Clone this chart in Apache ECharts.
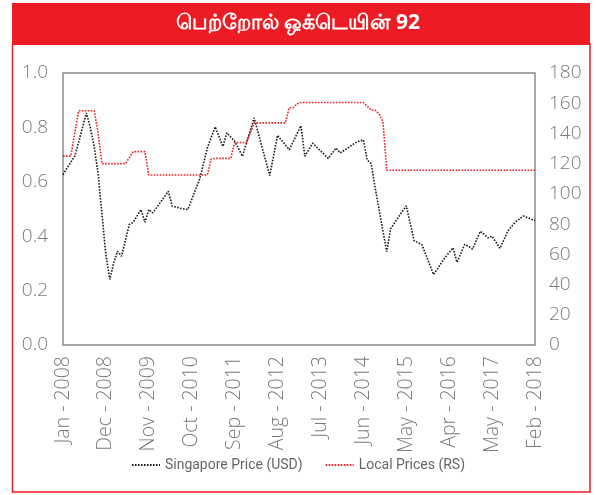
<!DOCTYPE html>
<html>
<head>
<meta charset="utf-8">
<script src="https://cdn.jsdelivr.net/npm/echarts@6/dist/echarts.min.js"></script>
<style>
  html, body { margin: 0; padding: 0; background: #fff; }
  #chart { width: 596px; height: 495px; }
</style>
</head>
<body>
<div id="chart"></div>
<script>
// tick labels shown on the x axis (every 11th point)
var tickLabels = ['Jan - 2008', 'Dec - 2008', 'Nov - 2009', 'Oct - 2010', 'Sep - 2011', 'Aug - 2012',
  'Jul - 2013', 'Jun - 2014', 'May - 2015', 'Apr - 2016', 'May - 2017', 'Feb - 2018'];

// Singapore price, USD (left axis)
var singapore = [
  0.626, 0.65, 0.672, 0.694, 0.745, 0.80, 0.853, 0.80, 0.73, 0.63,
  0.48, 0.33, 0.241, 0.302, 0.345, 0.326, 0.385, 0.443, 0.451, 0.475,
  0.498, 0.451, 0.498, 0.486, 0.505, 0.525, 0.545, 0.565, 0.510, 0.507,
  0.503, 0.500, 0.498, 0.535, 0.572, 0.608, 0.666, 0.724, 0.763, 0.802,
  0.766, 0.730, 0.780, 0.765, 0.749, 0.722, 0.694, 0.741, 0.788, 0.835,
  0.782, 0.729, 0.676, 0.623, 0.697, 0.771, 0.753, 0.736, 0.718, 0.747,
  0.777, 0.806, 0.694, 0.718, 0.742, 0.728, 0.714, 0.700, 0.686, 0.705,
  0.724, 0.706, 0.715, 0.724, 0.734, 0.744, 0.750, 0.754, 0.680, 0.667,
  0.58, 0.50, 0.42, 0.343, 0.428, 0.449, 0.470, 0.491, 0.512, 0.448,
  0.384, 0.376, 0.369, 0.332, 0.296, 0.259, 0.28, 0.302, 0.323, 0.340,
  0.357, 0.304, 0.337, 0.370, 0.362, 0.353, 0.386, 0.418, 0.406, 0.394,
  0.400, 0.378, 0.355, 0.386, 0.418, 0.436, 0.453, 0.463, 0.474, 0.469,
  0.463, 0.458
];

// Local prices, Rs (right axis)
var local = [
  125, 125, 125, 140, 155, 155, 155, 155, 155, 140,
  120, 120, 120, 120, 120, 120, 120, 124, 128, 128,
  128, 128, 112.5, 112.5, 112.5, 112.5, 112.5, 112.5, 112.5, 112.5,
  112.5, 112.5, 112.5, 112.5, 112.5, 112.5, 112.5, 112.5, 123, 123.5,
  123.5, 123.5, 123.5, 123.5, 134, 134, 134, 134, 140, 147,
  147, 147, 147, 147, 147, 147, 147, 147, 157, 157,
  159.5, 160.5, 160.5, 160.5, 160.5, 160.5, 160.5, 160.5, 160.5, 160.5,
  160.5, 160.5, 160.5, 160.5, 160.5, 160.5, 160.5, 160.5, 158, 155.5,
  155.5, 153, 148, 115.6, 115.6, 115.6, 115.6, 115.6, 115.6, 115.6,
  115.6, 115.6, 115.6, 115.6, 115.6, 115.6, 115.6, 115.6, 115.6, 115.6,
  115.6, 115.6, 115.6, 115.6, 115.6, 115.6, 115.6, 115.6, 115.6, 115.6,
  115.6, 115.6, 115.6, 115.6, 115.6, 115.6, 115.6, 115.6, 115.6, 115.6,
  115.6, 115.6
];

var categories = singapore.map(function (v, i) {
  return i % 11 === 0 ? tickLabels[i / 11] : String(i);
});

var red = '#ed1c24';
var gray = '#7a7a7a';
var labelFont = 'Open Sans';

var chart = echarts.init(document.getElementById('chart'));
chart.setOption({
  animation: false,
  graphic: [
    { type: 'rect', shape: { x: 12, y: 3, width: 578, height: 42 }, style: { fill: red } },
    { type: 'rect', shape: { x: 12.5, y: 44, width: 577.5, height: 448 },
      style: { fill: 'none', stroke: red, lineWidth: 1.5 } }
  ],
  title: {
    text: 'பெற்றோல் ஒக்டெயின் 92',
    left: 'center',
    top: 8,
    textStyle: { color: '#fff', fontSize: 21, fontWeight: 'bold', fontFamily: 'Noto Sans' }
  },
  legend: {
    bottom: 18,
    left: 'center',
    itemWidth: 28,
    itemHeight: 8,
    itemGap: 22,
    itemStyle: { opacity: 0 },
    textStyle: { color: '#666', fontSize: 14, fontFamily: 'Roboto' },
    data: ['Singapore Price (USD)', 'Local Prices (RS)']
  },
  grid: {
    left: 63, right: 61, top: 73, bottom: 150,
    show: true, borderColor: '#8a8a8a', borderWidth: 1.5
  },
  xAxis: {
    type: 'category',
    data: categories,
    boundaryGap: false,
    axisLine: { show: false },
    axisTick: { show: false },
    axisLabel: {
      interval: 10,
      rotate: 90,
      margin: 11,
      color: gray,
      fontSize: 19.5,
      fontFamily: labelFont,
      fontWeight: 300
    }
  },
  yAxis: [
    {
      type: 'value', min: 0, max: 1, interval: 0.2,
      axisLine: { show: false }, axisTick: { show: false }, splitLine: { show: false },
      axisLabel: {
        margin: 15, color: gray, fontSize: 19, fontFamily: labelFont, fontWeight: 300,
        formatter: function (v) { return v.toFixed(1); }
      }
    },
    {
      type: 'value', min: 0, max: 180, interval: 20,
      axisLine: { show: false }, axisTick: { show: false }, splitLine: { show: false },
      axisLabel: { margin: 14, color: gray, fontSize: 19, fontFamily: labelFont, fontWeight: 300 }
    }
  ],
  series: [
    {
      name: 'Singapore Price (USD)',
      type: 'line',
      yAxisIndex: 0,
      data: singapore,
      symbol: 'none',
      lineStyle: { color: '#1a1a1a', width: 1.6, type: [1.6, 1.4] },
      itemStyle: { color: '#1a1a1a' }
    },
    {
      name: 'Local Prices (RS)',
      type: 'line',
      yAxisIndex: 1,
      data: local,
      symbol: 'none',
      lineStyle: { color: red, width: 1.6, type: [1.6, 1.4] },
      itemStyle: { color: red }
    }
  ]
});
</script>
</body>
</html>
